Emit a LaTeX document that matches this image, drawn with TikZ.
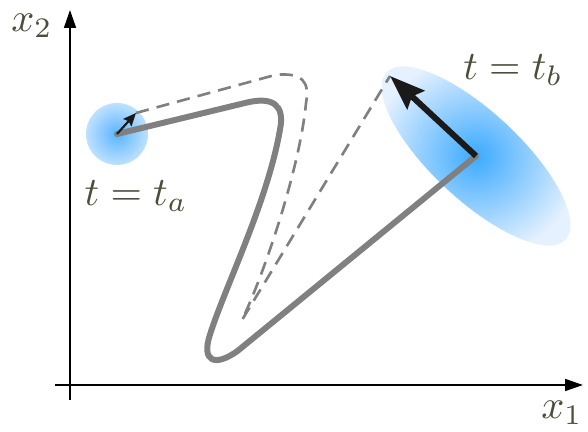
\documentclass[tikz,border=0pt]{standalone}
\usepackage{tikz}
\usetikzlibrary{arrows.meta,shapes.geometric}
\definecolor{ink}{HTML}{4D4D3C}
\definecolor{blobin}{HTML}{5AB4FF}
\definecolor{blobout}{HTML}{BEE1FF}
\definecolor{cloudin}{HTML}{3CAAFF}
\definecolor{cloudout}{HTML}{E6F1FF}
\definecolor{pathgray}{HTML}{808080}
\definecolor{arrowblk}{HTML}{1A1A1A}
\tikzset{
  axis/.style   ={-{Triangle[length=3.6mm,width=2.4mm]},line width=0.9pt,draw=black},
  lbl/.style    ={text=ink,scale=2.3,inner sep=0pt},
  truepath/.style={draw=pathgray,line width=3.4pt,line join=round,line cap=round},
  guess/.style  ={draw=pathgray,line width=1.5pt,dash pattern=on 7.5pt off 4.6pt},
  kick/.style   ={-{Stealth[length=2.6mm,width=2.2mm,inset=0.4mm]},line width=1.2pt,draw=arrowblk},
  bigkick/.style={-{Stealth[length=7mm,width=5mm,inset=1mm]},line width=3.4pt,draw=arrowblk}
}
\begin{document}
\begin{tikzpicture}
    \useasboundingbox (0,0) rectangle (11.76,8.64);
    % --- axes ---
    \coordinate (xs) at (1.1,0.94);
    \coordinate (xe) at (11.66,0.94);
    \coordinate (ys) at (1.4,0.64);
    \coordinate (ye) at (1.4,8.44);
    \draw[axis] (xs) -- (xe);
    \draw[axis] (ys) -- (ye);
    \node[lbl] (x1) at (11.24,0.38) {$x_1$};
    \node[lbl] (x2) at (0.64,8.12) {$x_2$};
    % --- start and end clouds ---
    \node[circle,minimum size=1.24cm,inner sep=0pt,shading=radial,
          inner color=blobin,outer color=blobout] (ta) at (2.34,5.96) {};
    \node[ellipse,minimum width=4.9cm,minimum height=1.76cm,inner sep=0pt,rotate=-43,
          shading=radial,inner color=cloudin,outer color=cloudout] (tb) at (9.52,5.52) {};
    \node[lbl] (la) at (2.72,4.72) {$t=t_a$};
    \node[lbl] (lb) at (10.26,7.24) {$t=t_b$};
    \coordinate (pa) at (2.72,6.38);
    \coordinate (pb) at (7.8,7.12);
    % --- trajectories ---
    \draw[truepath] (ta.center) -- (4.9,6.58) .. controls (5.45,6.72) and (5.7,6.55) .. (5.6,6.05)
      .. controls (5.35,4.6) and (4.5,2.9) .. (4.2,1.95)
      .. controls (4.02,1.4) and (4.3,1.3) .. (4.75,1.62) -- (tb.center);
    \draw[guess] (pa) -- (5.5,7.14) .. controls (6.05,7.2) and (6.2,7.0) .. (6.12,6.58)
      .. controls (6.0,5.3) and (5.3,3.2) .. (4.84,2.24) -- (pb);
    % --- perturbations ---
    \draw[kick] (ta.center) -- (pa);
    \draw[bigkick] (tb.center) -- (pb);
\end{tikzpicture}
\end{document}
